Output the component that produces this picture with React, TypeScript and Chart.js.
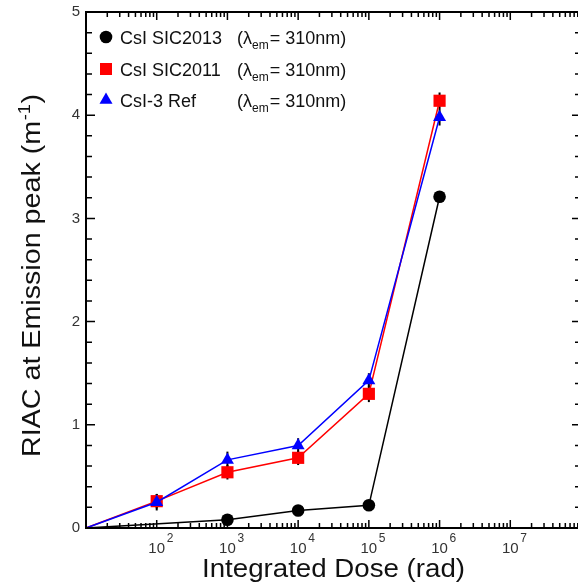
import React, { useEffect, useRef } from 'react';
import { Chart, registerables } from 'chart.js';

Chart.register(...registerables);

// ---- data ----
const sic2013Dose = [1e1, 1e3, 1e4, 1e5, 1e6];
const sic2013Riac = [0, 0.08, 0.17, 0.22, 3.21];
const sic2013Err = [0, 0.01, 0.01, 0.01, 0.02];

const sic2011Dose = [1e1, 1e2, 1e3, 1e4, 1e5, 1e6];
const sic2011Riac = [0, 0.26, 0.54, 0.68, 1.3, 4.14];
const sic2011Err = [0, 0.07, 0.07, 0.07, 0.08, 0.08];

const ref3Dose = [1e1, 1e2, 1e3, 1e4, 1e5, 1e6];
const ref3Riac = [0, 0.25, 0.66, 0.8, 1.43, 3.98];
const ref3Err = [0, 0.08, 0.08, 0.07, 0.07, 0.08];

const seriesLabels = ['CsI SIC2013', 'CsI SIC2011', 'CsI-3 Ref'];
const seriesColors = ['#000000', '#ff0000', '#0000ff'];
const seriesMarkers = ['circle', 'rect', 'triangle'];
const wavelengthText = ['(λ', 'em', '= 310nm)'];

const xTickExponents = [2, 3, 4, 5, 6, 7];
const yTickValues = [0, 1, 2, 3, 4, 5];
const xTitle = 'Integrated Dose (rad)';
const yTitleMain = 'RIAC at Emission peak (m';
const yTitleSup = '-1';
const yTitleEnd = ')';

const FONT = "'Liberation Sans', Arial, sans-serif";

function toPoints(xs: number[], ys: number[]) {
  return xs.map((x, i) => ({ x, y: ys[i] }));
}

function drawMarker(ctx: CanvasRenderingContext2D, kind: string, x: number, y: number, color: string) {
  ctx.save();
  ctx.fillStyle = color;
  ctx.beginPath();
  if (kind === 'circle') {
    ctx.arc(x, y, 6.3, 0, Math.PI * 2);
  } else if (kind === 'rect') {
    ctx.rect(x - 6, y - 6, 12, 12);
  } else {
    const r = 7.5;
    ctx.moveTo(x, y - r);
    ctx.lineTo(x + r * Math.sin((2 * Math.PI) / 3), y + r / 2);
    ctx.lineTo(x - r * Math.sin((2 * Math.PI) / 3), y + r / 2);
    ctx.closePath();
  }
  ctx.fill();
  ctx.restore();
}

const decorPlugin = {
  id: 'decor',
  beforeDatasetsDraw(chart: any) {
    const ctx: CanvasRenderingContext2D = chart.ctx;
    const xs = chart.scales.x;
    const ys = chart.scales.y;
    const sets = [
      [sic2013Dose, sic2013Riac, sic2013Err],
      [sic2011Dose, sic2011Riac, sic2011Err],
      [ref3Dose, ref3Riac, ref3Err],
    ];
    ctx.save();
    ctx.strokeStyle = '#000';
    ctx.lineWidth = 2;
    sets.forEach(([d, v, e]) => {
      d.forEach((dose, i) => {
        if (!e[i]) return;
        const px = xs.getPixelForValue(dose);
        ctx.beginPath();
        ctx.moveTo(px, ys.getPixelForValue(v[i] - e[i]));
        ctx.lineTo(px, ys.getPixelForValue(v[i] + e[i]));
        ctx.stroke();
      });
    });
    ctx.restore();
  },
  afterDraw(chart: any) {
    const ctx: CanvasRenderingContext2D = chart.ctx;
    const xs = chart.scales.x;
    const ys = chart.scales.y;
    const { left, right, top, bottom } = chart.chartArea;
    ctx.save();
    // frame
    ctx.strokeStyle = '#000';
    ctx.lineWidth = 2;
    ctx.strokeRect(left, top, right - left, bottom - top);

    // x ticks
    ctx.lineWidth = 1.5;
    for (let d = 1; d <= 7; d++) {
      for (let k = 1; k <= 9; k++) {
        const v = k * Math.pow(10, d);
        if (v <= xs.min || v >= xs.max) continue;
        const px = xs.getPixelForValue(v);
        const len = k === 1 ? 8 : 5;
        ctx.beginPath();
        ctx.moveTo(px, bottom);
        ctx.lineTo(px, bottom - len);
        ctx.moveTo(px, top);
        ctx.lineTo(px, top + len);
        ctx.stroke();
      }
    }
    // y ticks
    for (let i = 1; i < 25; i++) {
      const v = i * 0.2;
      const py = ys.getPixelForValue(v);
      const len = i % 5 === 0 ? 9 : 6;
      ctx.beginPath();
      ctx.moveTo(left, py);
      ctx.lineTo(left + len, py);
      ctx.moveTo(right, py);
      ctx.lineTo(right - len, py);
      ctx.stroke();
    }

    // y tick labels
    ctx.fillStyle = '#333';
    ctx.font = `15px ${FONT}`;
    ctx.textAlign = 'right';
    ctx.textBaseline = 'middle';
    yTickValues.forEach((v) => {
      ctx.fillText(String(v), left - 6, ys.getPixelForValue(v));
    });

    // x tick labels 10^n
    ctx.textBaseline = 'alphabetic';
    xTickExponents.forEach((n) => {
      const px = xs.getPixelForValue(Math.pow(10, n));
      ctx.font = `15px ${FONT}`;
      ctx.textAlign = 'center';
      ctx.fillText('10', px, bottom + 25);
      ctx.font = `12px ${FONT}`;
      ctx.textAlign = 'left';
      ctx.fillText(String(n), px + 10, bottom + 14);
    });

    // x title
    ctx.fillStyle = '#111';
    ctx.font = `26px ${FONT}`;
    ctx.textAlign = 'center';
    const xw = ctx.measureText(xTitle).width;
    ctx.save();
    ctx.translate((left + right) / 2, 577);
    ctx.scale(263 / xw, 1);
    ctx.fillText(xTitle, 0, 0);
    ctx.restore();

    // y title
    ctx.save();
    ctx.translate(40, 276);
    ctx.rotate(-Math.PI / 2);
    ctx.textAlign = 'left';
    ctx.font = `25px ${FONT}`;
    const w1 = ctx.measureText(yTitleMain).width;
    const w3 = ctx.measureText(yTitleEnd).width;
    ctx.font = `16px ${FONT}`;
    const w2 = ctx.measureText(yTitleSup).width;
    const total = w1 + w2 + w3;
    ctx.scale(362 / total, 1);
    const x0 = -total / 2;
    ctx.font = `25px ${FONT}`;
    ctx.fillText(yTitleMain, x0, 0);
    ctx.fillText(yTitleEnd, x0 + w1 + w2 + 1, 0);
    ctx.font = `16px ${FONT}`;
    ctx.fillText(yTitleSup, x0 + w1 + 0.5, -10);
    ctx.restore();

    // legend
    const rowY = [37, 69, 100];
    seriesLabels.forEach((lab, i) => {
      const cy = rowY[i];
      drawMarker(ctx, seriesMarkers[i], 106, cy, seriesColors[i]);
      ctx.fillStyle = '#111';
      ctx.textAlign = 'left';
      ctx.font = `18px ${FONT}`;
      ctx.fillText(lab, 120, cy + 7);
      let x = 237;
      ctx.fillText(wavelengthText[0], x, cy + 7);
      x += ctx.measureText(wavelengthText[0]).width;
      ctx.font = `12px ${FONT}`;
      ctx.fillText(wavelengthText[1], x, cy + 12);
      x += ctx.measureText(wavelengthText[1]).width + 1;
      ctx.font = `18px ${FONT}`;
      ctx.fillText(wavelengthText[2], x, cy + 7);
    });

    ctx.restore();
  },
};

export default function App() {
  const canvasRef = useRef<HTMLCanvasElement | null>(null);

  useEffect(() => {
    if (!canvasRef.current) return;
    const mk = (
      label: string,
      xs: number[],
      ys: number[],
      color: string,
      style: string,
      radius: number,
      order: number
    ) => ({
      label,
      data: toPoints(xs, ys),
      borderColor: color,
      backgroundColor: color,
      borderWidth: 1.5,
      pointStyle: style,
      pointRadius: xs.map((x) => (x <= 10 ? 0 : radius)),
      pointBorderWidth: 0,
      pointBackgroundColor: color,
      pointBorderColor: color,
      tension: 0,
      clip: false,
      order,
    });
    const chart = new Chart(canvasRef.current, {
      type: 'line',
      data: {
        datasets: [
          mk(seriesLabels[0], sic2013Dose, sic2013Riac, seriesColors[0], 'circle', 6.3, 2),
          mk(seriesLabels[1], sic2011Dose, sic2011Riac, seriesColors[1], 'rect', 8.6, 1),
          mk(seriesLabels[2], ref3Dose, ref3Riac, seriesColors[2], 'triangle', 7.5, 0),
        ] as any,
      },
      options: {
        responsive: false,
        devicePixelRatio: 1,
        animation: false,
        layout: { padding: { left: 86, top: 12, right: 600 - 581, bottom: 584 - 528 } },
        scales: {
          x: { type: 'logarithmic', min: 10, max: 1e8, display: false },
          y: { type: 'linear', min: 0, max: 5, display: false },
        },
        plugins: {
          legend: { display: false },
          tooltip: { enabled: false },
        },
      },
      plugins: [decorPlugin],
    });
    return () => chart.destroy();
  }, []);

  return (
    <div
      style={{
        position: 'absolute',
        left: 0,
        top: 0,
        width: 578,
        height: 584,
        overflow: 'hidden',
        background: '#fff',
      }}
    >
      <canvas ref={canvasRef} width={600} height={584} style={{ width: 600, height: 584, display: 'block' }} />
    </div>
  );
}
